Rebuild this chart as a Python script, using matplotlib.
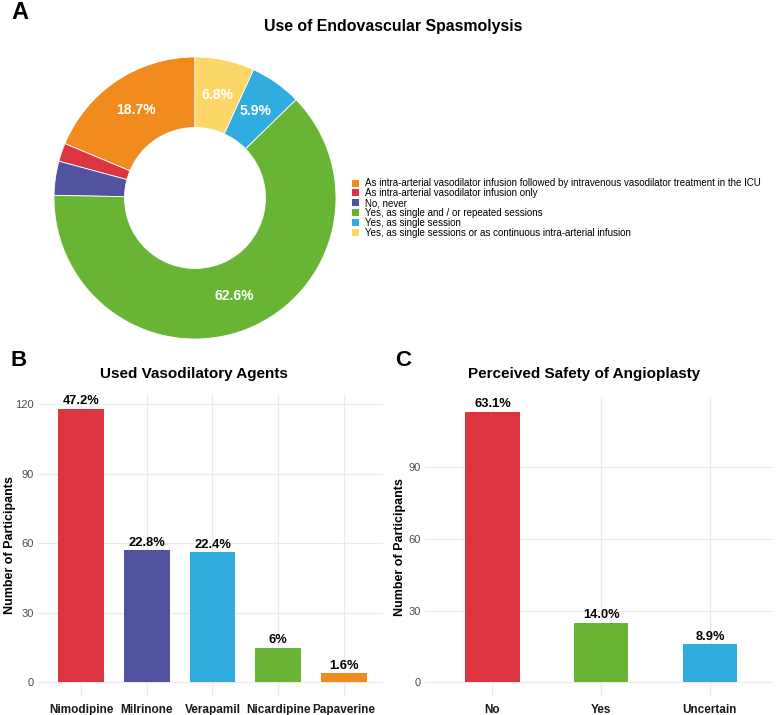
import matplotlib
matplotlib.use("Agg")
import matplotlib.pyplot as plt
import numpy as np
from matplotlib.patches import Patch

plt.rcParams['font.family'] = ['Liberation Sans', 'DejaVu Sans']

# Panel A: use of endovascular spasmolysis (%)
spasmo_labels = [
    "As intra-arterial vasodilator infusion followed by intravenous vasodilator treatment in the ICU",
    "As intra-arterial vasodilator infusion only",
    "No, never",
    "Yes, as single and / or repeated sessions",
    "Yes, as single session",
    "Yes, as single sessions or as continuous intra-arterial infusion",
]
spasmo_pct = [18.7, 2.1, 3.9, 62.6, 5.9, 6.8]
spasmo_colors = ['#F28B1E', '#DD3540', '#5153A0', '#68B535', '#31ACDE', '#FDD668']

# Panel B: vasodilatory agents
agents = ['Nimodipine', 'Milrinone', 'Verapamil', 'Nicardipine', 'Papaverine']
agent_counts = [118, 57, 56, 15, 4]
agent_pct_labels = ['47.2%', '22.8%', '22.4%', '6%', '1.6%']
agent_colors = ['#DD3540', '#5153A0', '#31ACDE', '#68B535', '#F28B1E']

# Panel C: perceived safety of angioplasty
safety = ['No', 'Yes', 'Uncertain']
safety_counts = [113, 25, 16]
safety_pct_labels = ['63.1%', '14.0%', '8.9%']
safety_colors = ['#DD3540', '#68B535', '#31ACDE']

W, H = 779, 715
fig = plt.figure(figsize=(W / 100, H / 100), dpi=100)


def px_axes(x0, y0, x1, y1):
    # pixel box (top-left origin) -> figure axes
    return fig.add_axes([x0 / W, 1 - y1 / H, (x1 - x0) / W, (y1 - y0) / H])


# ---- A: donut ----
axA = px_axes(54, 57, 336, 339)
wedges, _ = axA.pie(spasmo_pct, colors=spasmo_colors, startangle=90, counterclock=True,
                    radius=1, wedgeprops=dict(width=0.5, edgecolor='white', linewidth=0.6))
for w, p in zip(wedges, spasmo_pct):
    if p < 5:
        continue
    ang = np.deg2rad((w.theta1 + w.theta2) / 2)
    axA.text(0.75 * np.cos(ang), 0.75 * np.sin(ang), f"{p}%", ha='center', va='center',
             color='white', fontsize=10, fontweight='bold')
axA.set_xlim(-1, 1)
axA.set_ylim(-1, 1)
axA.set_aspect('equal')

handles = [Patch(facecolor=c, edgecolor='none') for c in spasmo_colors]
fig.legend(handles, spasmo_labels, loc='center left', bbox_to_anchor=(352 / W, 1 - 208 / H),
           frameon=False, fontsize=7, handlelength=0.75, handleheight=0.75,
           handletextpad=0.6, labelspacing=-0.02, borderaxespad=0, borderpad=0)

fig.text(393 / W, 1 - 26 / H, "Use of Endovascular Spasmolysis", ha='center', va='center',
         fontsize=11.4, fontweight='bold')
fig.text(11 / W, 1 - 12.5 / H, "A", ha='left', va='center', fontsize=17, fontweight='bold')


def bar_panel(ax, cats, counts, labels, colors, width, xlim, ymax_tick, label_x):
    x = np.arange(len(cats))
    ax.bar(x, counts, width=width, color=colors, zorder=2)
    for xi, c, lab in zip(x, counts, labels):
        ax.text(xi, c + 0.6, lab, ha='center', va='bottom', fontsize=9.3,
                fontweight='bold', zorder=3)
    top = max(counts)
    ax.set_ylim(-0.05 * top, 1.05 * top)
    ax.set_xlim(*xlim)
    ax.set_yticks(np.arange(0, ymax_tick + 1, 30))
    ax.set_xticks(x)
    ax.set_xticklabels(cats, fontweight='bold', fontsize=8.5, color='#1A1A1A')
    ax.tick_params(axis='y', labelsize=8, labelcolor='#4D4D4D', length=0, pad=3)
    ax.tick_params(axis='x', length=0, pad=6)
    ax.grid(True, color='#EBEBEB', linewidth=0.8, zorder=0)
    ax.set_axisbelow(True)
    for s in ax.spines.values():
        s.set_visible(False)
    ax.set_ylabel("Number of Participants", fontsize=9, fontweight='bold')
    ax.yaxis.set_label_coords(label_x, 0.5)


axB = px_axes(38, 395, 383, 696)
bar_panel(axB, agents, agent_counts, agent_pct_labels, agent_colors, 0.7,
          (-0.66, 4.6), 120, (16 - 38) / 345)

axC = px_axes(425, 398, 773, 696)
bar_panel(axC, safety, safety_counts, safety_pct_labels, safety_colors, 0.5,
          (-0.62, 2.58), 90, (406 - 425) / 348)

fig.text(194 / W, 1 - 374 / H, "Used Vasodilatory Agents", ha='center', va='center',
         fontsize=11, fontweight='bold')
fig.text(584 / W, 1 - 374 / H, "Perceived Safety of Angioplasty", ha='center', va='center',
         fontsize=11, fontweight='bold')

fig.text(10 / W, 1 - 360 / H, "B", ha='left', va='center', fontsize=16, fontweight='bold')
fig.text(395 / W, 1 - 360 / H, "C", ha='left', va='center', fontsize=16, fontweight='bold')

fig.savefig("out.png", dpi=100)
